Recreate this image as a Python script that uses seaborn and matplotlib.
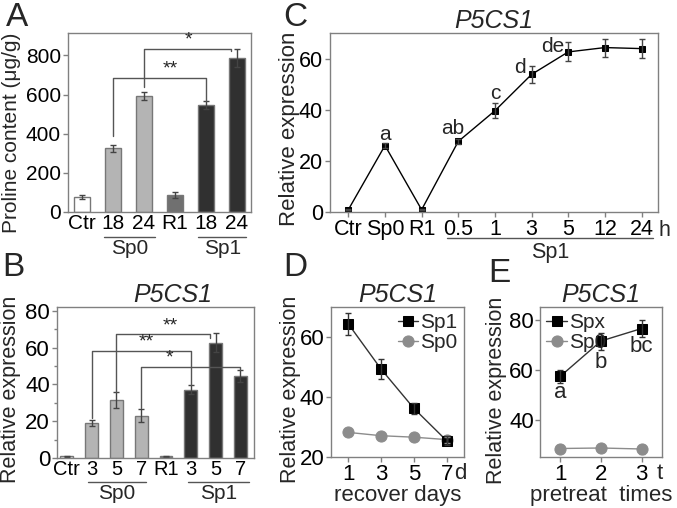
import numpy as np
import matplotlib
matplotlib.use("Agg")
import matplotlib.pyplot as plt
from matplotlib.ticker import MultipleLocator
import seaborn as sns

sns.set_theme(style="ticks")
plt.rcParams["font.family"] = ["Liberation Sans", "DejaVu Sans"]

# ---------------- data ----------------
# A: proline content
a_labels = ["Ctr", "18", "24", "R1", "18", "24"]
a_vals = [77, 325, 593, 86, 546, 787]
a_err = [12, 17, 18, 15, 22, 45]
a_colors = ["#ffffff", "#b4b4b4", "#b4b4b4", "#707070", "#303030", "#303030"]

# B: P5CS1 bars
b_labels = ["Ctr", "3", "5", "7", "R1", "3", "5", "7"]
b_vals = [1, 19, 31.5, 23, 1, 37, 62.5, 44.5]
b_err = [0.3, 1.4, 4.5, 3.4, 0.3, 2.5, 5.2, 3.2]
b_colors = ["#ffffff", "#b4b4b4", "#b4b4b4", "#b4b4b4", "#707070", "#303030", "#303030", "#303030"]

# C: P5CS1 time course
c_labels = ["Ctr", "Sp0", "R1", "0.5", "1", "3", "5", "12", "24"]
c_vals = [0.9, 26, 0.9, 27.6, 39.6, 53.8, 62.6, 64.3, 63.9]
c_err = [0.3, 1.1, 0.3, 1.0, 3.0, 3.3, 3.7, 3.5, 3.6]
c_letters = {1: "a", 3: "ab", 4: "c", 5: "d", 6: "de"}

# D: recovery days
d_days = [1, 3, 5, 7]
d_sp1 = [64.4, 49.3, 36.2, 25.4]
d_sp1_err = [3.7, 3.3, 1.7, 1.5]
d_sp0 = [28.2, 27.1, 26.6, 25.8]
d_sp0_err = [0.8, 0.6, 0.5, 1.0]

# E: pretreat times
e_times = [1, 2, 3]
e_spx = [57.3, 71.4, 76.4]
e_spx_err = [2.7, 3.4, 3.3]
e_sp0 = [28.4, 28.6, 28.2]
e_sp0_err = [1.5, 1.0, 1.8]
e_letters = ["a", "b", "bc"]

W, H = 677, 508
fig = plt.figure(figsize=(W / 100, H / 100), dpi=100)

SPINE = "#808080"
LINE = "#555555"


def px_axes(l, t, r, b):
    return fig.add_axes([l / W, 1 - b / H, (r - l) / W, (b - t) / H])


def style(ax, fs, xtick_len=3.5):
    for s in ax.spines.values():
        s.set_color(SPINE)
        s.set_linewidth(1)
    ax.tick_params(axis="both", colors=SPINE, labelcolor="black", labelsize=fs,
                   length=3.5, width=1, pad=1.5)
    ax.tick_params(axis="x", length=xtick_len)


def group_line(ax, x0, x1, y, label, ty, fs):
    tr = ax.get_xaxis_transform()
    ax.plot([x0, x1], [y, y], transform=tr, clip_on=False, color=LINE, lw=1)
    ax.text((x0 + x1) / 2, ty, label, transform=tr, ha="center", va="top", fontsize=fs)


def bracket(ax, x0, x1, y, y0, y1, star, sx, fs=14):
    ax.plot([x0, x0, x1, x1], [y0, y, y, y1], color=LINE, lw=1)
    ax.text(sx, y, star, ha="center", va="bottom", fontsize=fs)


def bars(ax, labels, vals, err, colors):
    keys = [f"{i}" for i in range(len(labels))]
    sns.barplot(x=keys, y=vals, hue=keys, palette=colors, legend=False,
                width=0.52, edgecolor="#777777", linewidth=1, ax=ax)
    ax.errorbar(range(len(vals)), vals, yerr=err, fmt="none", ecolor="#444444",
                elinewidth=1, capsize=2, capthick=1)
    ax.set_xticks(range(len(labels)))
    ax.set_xticklabels(labels)
    ax.set_xlabel("")


# ---------------- A ----------------
axA = px_axes(68, 33, 251, 212)
bars(axA, a_labels, a_vals, a_err, a_colors)
axA.set_xlim(-0.45, 5.45)
axA.set_ylim(0, 915)
axA.set_yticks([0, 200, 400, 600, 800])
style(axA, 15, xtick_len=0)
axA.set_ylabel("Proline content (\u03bcg/g)", fontsize=15)
axA.yaxis.set_label_coords(-0.255, 0.44)
bracket(axA, 1, 4, 686, 390, 568, "**", 2.84)
bracket(axA, 2, 4.8, 834, 640, 822, "*", 3.42)
group_line(axA, 0.7, 2.35, -0.14, "Sp0", -0.15, 15)
group_line(axA, 3.75, 5.3, -0.14, "Sp1", -0.15, 15)

# ---------------- C ----------------
axC = px_axes(330, 33, 658, 212)
c_pos = np.arange(len(c_labels))
sns.lineplot(x=c_pos, y=c_vals, ax=axC, color="black", lw=1, marker="s",
             markersize=4, markeredgecolor="black")
axC.errorbar(c_pos, c_vals, yerr=c_err, fmt="none", ecolor="#444444",
             elinewidth=1, capsize=2.5, capthick=1)
axC.set_xticks(c_pos)
axC.set_xticklabels(c_labels)
axC.set_xlim(-0.5, 8.45)
axC.set_ylim(0, 70)
axC.set_yticks([0, 20, 40, 60])
style(axC, 15.5)
axC.set_ylabel("Relative expression", fontsize=16)
axC.yaxis.set_label_coords(-0.09, 0.465)
axC.set_title("P5CS1", fontsize=18, style="italic", pad=1)
letter_off = {1: (0, 4.2), 3: (-0.16, 5.2), 4: (0, 6.6), 5: (-0.32, 2.7), 6: (-0.41, 2.0)}
for i, s in c_letters.items():
    dx, dy = letter_off[i]
    axC.text(i + dx, c_vals[i] + dy, s, ha="center", va="center", fontsize=15)
axC.text(8.62, -0.045, "h", transform=axC.get_xaxis_transform(), ha="center",
         va="top", fontsize=15.5)
group_line(axC, 2.69, 8.31, -0.147, "Sp1", -0.165, 15.5)

# ---------------- B ----------------
axB = px_axes(57, 307, 254, 458)
bars(axB, b_labels, b_vals, b_err, b_colors)
axB.set_xlim(-0.4, 7.55)
axB.set_ylim(0, 82)
axB.set_yticks([0, 20, 40, 60, 80])
axB.yaxis.set_minor_locator(MultipleLocator(10))
style(axB, 16, xtick_len=0)
axB.tick_params(axis="y", which="minor", length=2, width=1, colors=SPINE)
axB.tick_params(axis="x", labelsize=14.5)
axB.set_ylabel("Relative expression", fontsize=15.5)
axB.yaxis.set_label_coords(-0.183, 0.457)
axB.set_title("P5CS1", fontsize=18, style="italic", pad=1, x=0.59)
bracket(axB, 2, 5.79, 67.3, 36, 65, "**", 4.16)
bracket(axB, 1, 5, 58.2, 21.5, 39.6, "**", 3.2)
bracket(axB, 3, 7, 49.6, 27, 48, "*", 4.13)
group_line(axB, 0.86, 3.19, -0.159, "Sp0", -0.17, 15)
group_line(axB, 4.88, 7.33, -0.159, "Sp1", -0.17, 15)

# ---------------- D ----------------
axD = px_axes(331, 307, 464, 457)
sns.lineplot(x=d_days, y=d_sp0, ax=axD, color="#8c8c8c", lw=1, marker="o",
             markersize=8, markeredgecolor="#8c8c8c", label="Sp0")
sns.lineplot(x=d_days, y=d_sp1, ax=axD, color="#333333", lw=1, marker="s",
             markersize=7, markerfacecolor="black", markeredgecolor="black", label="Sp1")
axD.errorbar(d_days, d_sp0, yerr=d_sp0_err, fmt="none", ecolor="#8c8c8c",
             elinewidth=1, capsize=2)
axD.errorbar(d_days, d_sp1, yerr=d_sp1_err, fmt="none", ecolor="#333333",
             elinewidth=1, capsize=2)
axD.set_xlim(-0.05, 8.05)
axD.set_ylim(20, 70)
axD.set_xticks(d_days)
axD.set_yticks([20, 40, 60])
style(axD, 16)
axD.tick_params(axis="y", pad=1)
axD.set_ylabel("Relative expression", fontsize=15.5)
axD.yaxis.set_label_coords(-0.228, 0.453)
axD.set_xlabel("recover days", fontsize=16, labelpad=0)
axD.set_title("P5CS1", fontsize=18, style="italic", pad=1)
axD.text(7.85, -0.04, "d", transform=axD.get_xaxis_transform(), ha="center",
         va="top", fontsize=16)
h, l = axD.get_legend_handles_labels()
axD.legend(h[::-1], l[::-1], loc="upper right", frameon=False, fontsize=15,
           handlelength=1.0, handletextpad=0.1, labelspacing=0.05,
           borderaxespad=0.2, borderpad=0.1)

# ---------------- E ----------------
axE = px_axes(540, 307, 662, 457)
sns.lineplot(x=e_times, y=e_sp0, ax=axE, color="#8c8c8c", lw=1, marker="o",
             markersize=8, markeredgecolor="#8c8c8c", label="Sp0")
sns.lineplot(x=e_times, y=e_spx, ax=axE, color="#333333", lw=1, marker="s",
             markersize=7, markerfacecolor="black", markeredgecolor="black", label="Spx")
axE.errorbar(e_times, e_sp0, yerr=e_sp0_err, fmt="none", ecolor="#8c8c8c",
             elinewidth=1, capsize=2)
axE.errorbar(e_times, e_spx, yerr=e_spx_err, fmt="none", ecolor="#333333",
             elinewidth=1, capsize=2)
axE.set_xlim(0.5, 3.5)
axE.set_ylim(25, 85)
axE.set_xticks(e_times)
axE.set_yticks([40, 60, 80])
style(axE, 16)
axE.tick_params(axis="y", pad=1)
axE.set_ylabel("Relative expression", fontsize=15.5)
axE.yaxis.set_label_coords(-0.27, 0.447)
axE.set_xlabel("pretreat  times", fontsize=16, labelpad=0)
axE.set_title("P5CS1", fontsize=18, style="italic", pad=1)
for x, y, s, dy in zip(e_times, e_spx, e_letters, [-6.5, -8.5, -7.0]):
    axE.text(x, y + dy, s, ha="center", va="center", fontsize=16)
axE.text(3.45, -0.04, "t", transform=axE.get_xaxis_transform(), ha="center",
         va="top", fontsize=16)
h, l = axE.get_legend_handles_labels()
axE.legend(h[::-1], l[::-1], loc="upper left", frameon=False, fontsize=15,
           handlelength=1.0, handletextpad=0.1, labelspacing=0.05,
           borderaxespad=0.2, borderpad=0.1)

# panel letters
for s, x, y in [("A", 6, 2), ("C", 283, 2), ("B", 2, 252), ("D", 283, 252), ("E", 488, 258)]:
    fig.text(x / W, 1 - y / H, s, fontsize=24, ha="left", va="top")

fig.savefig("out.png", dpi=100)
